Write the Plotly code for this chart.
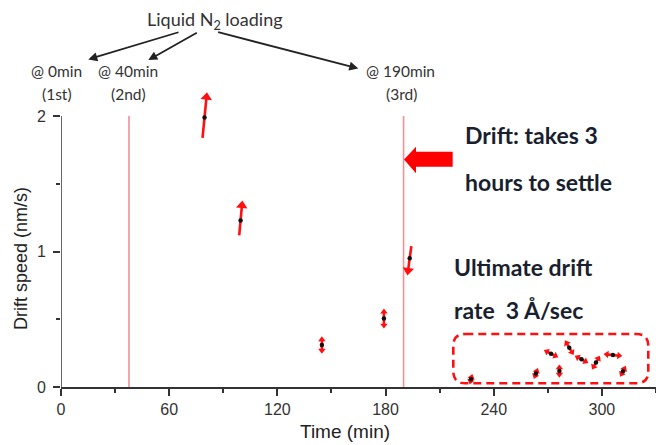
import plotly.graph_objects as go

# ---- data ----
time_min = [79.6, 99.6, 144.7, 179.1, 193.4, 227.4, 263.4, 271.8, 276.4, 281.9, 288.7, 296.7, 306.1, 311.7]
drift_speed = [1.99, 1.23, 0.31, 0.505, 0.95, 0.057, 0.10, 0.246, 0.118, 0.29, 0.204, 0.18, 0.236, 0.116]
# half drift-direction vector (toward the arrow head)
drift_dx = [1.1, 0.75, 0.0, 0.0, -0.9, 0.3, 0.5, 2.4, 0.0, 1.5, 2.2, 1.3, 3.4, 0.75]
drift_dy = [0.15, 0.11, 0.04, 0.05, -0.09, 0.015, 0.018, -0.016, 0.025, -0.034, -0.016, 0.03, -0.005, 0.019]
double_headed = [False, False, True, True, False, True, True, True, True, True, True, True, True, True]

ln2_times = [37.7, 190]
x_ticks = [0, 60, 120, 180, 240, 300]
y_ticks = [0, 1, 2]

RED = "#ff1010"
W, H = 656, 445
YMAX = 2.2
ML, MR, MB = 61, 0, 58
PW = W - ML - MR
PH = 135.5 * YMAX
MT = H - MB - PH


def px(x):
    return (x - ML) / PW


def py(y):
    return (H - MB - y) / PH


fig = go.Figure()

for t, s, dx, dy, dbl in zip(time_min, drift_speed, drift_dx, drift_dy, double_headed):
    hx, hy = t + dx, s + dy
    tx, ty = t - dx, s - dy
    asz = 10 if not dbl else 6.5
    fig.add_trace(go.Scatter(
        x=[tx, hx], y=[ty, hy], mode="lines+markers",
        line=dict(color=RED, width=2.6),
        marker=dict(symbol=["circle", "triangle-up"], size=[0, asz], angleref="previous",
                    color=RED, line=dict(width=0), opacity=1),
        cliponaxis=False, showlegend=False, hoverinfo="skip"))
    if dbl:
        fig.add_trace(go.Scatter(
            x=[hx, tx], y=[hy, ty], mode="markers",
            marker=dict(symbol=["circle", "triangle-up"], size=[0, asz], angleref="previous",
                        color=RED, line=dict(width=0), opacity=1),
            cliponaxis=False, showlegend=False, hoverinfo="skip"))

fig.add_trace(go.Scatter(
    x=time_min, y=drift_speed, mode="markers",
    marker=dict(color="#111111", size=4.5, line=dict(width=0)),
    cliponaxis=False, showlegend=False))

shapes = []
for lt in ln2_times:
    shapes.append(dict(type="line", xref="x", yref="y", x0=lt, x1=lt, y0=0, y1=2,
                       line=dict(color="#f3909a", width=1.6), layer="below"))
# y axis line (only up to the top tick)
shapes.append(dict(type="line", xref="x", yref="y", x0=0, x1=0, y0=0, y1=2,
                   line=dict(color="#333", width=1.5)))

# dashed rounded box
x0, x1, y0, y1, r = 453.3, 648.3, 334, 383.3, 12
rx, ry = r / PW, r / PH
X0, X1, Y0, Y1 = px(x0), px(x1), py(y0), py(y1)
path = (f"M{X0+rx},{Y0} L{X1-rx},{Y0} Q{X1},{Y0} {X1},{Y0-ry} "
        f"L{X1},{Y1+ry} Q{X1},{Y1} {X1-rx},{Y1} "
        f"L{X0+rx},{Y1} Q{X0},{Y1} {X0},{Y1+ry} "
        f"L{X0},{Y0-ry} Q{X0},{Y0} {X0+rx},{Y0} Z")
shapes.append(dict(type="path", xref="paper", yref="paper", path=path,
                   line=dict(color=RED, width=2.6, dash="8px,5px")))

# big red block arrow
pts = [(404, 159.3), (416, 146.7), (416, 151.7), (452.7, 151.7), (452.7, 166.7), (416, 166.7), (416, 173.3)]
apath = "M" + " L".join(f"{px(a)},{py(b)}" for a, b in pts) + " Z"
shapes.append(dict(type="path", xref="paper", yref="paper", path=apath,
                   fillcolor="#ff0000", line=dict(width=0)))

ann = []


def txt(s, x, y, size, color="#333333", family="Lato", xanchor="center", bold=False, angle=0):
    if bold:
        s = f"<b>{s}</b>"
    ann.append(dict(text=s, x=px(x), y=py(y), xref="paper", yref="paper", showarrow=False,
                    xanchor=xanchor, yanchor="middle", textangle=angle,
                    font=dict(size=size, color=color, family=family)))


txt("Liquid N<sub>2</sub> loading", 215, 20.7, 18)
txt("@ 0min", 56.7, 71, 15.5)
txt("(1st)", 56.7, 94.3, 15.5)
txt("@ 40min", 128.3, 71, 15.5)
txt("(2nd)", 128.3, 94.3, 15.5)
txt("@ 190min", 400, 71, 15.5)
txt("(3rd)", 401.7, 94.3, 15.5)

dark = "#1a1f30"
txt("Drift: takes 3", 463, 135, 23, dark, xanchor="left", bold=True)
txt("hours to settle", 463, 181.7, 23, dark, xanchor="left", bold=True)
txt("Ultimate drift", 451.7, 266.7, 23, dark, xanchor="left", bold=True)
txt("rate\u00a0 3 Å/sec", 451.7, 310, 23, dark, xanchor="left", bold=True)

# axis titles
txt("Time (min)", 345, 432, 19, "#222", family="Liberation Sans, Arial")
txt("Drift speed (nm/s)", 21, 259, 18, "#222", family="Liberation Sans, Arial", angle=-90)

for (tx_, ty_), (hx_, hy_) in [((180, 31.7), (88.3, 59.3)), ((198.3, 31.7), (148.3, 60)), ((216.7, 31.7), (358.3, 68.3))]:
    ann.append(dict(x=px(hx_), y=py(hy_), xref="paper", yref="paper", ax=tx_ - hx_, ay=ty_ - hy_,
                    showarrow=True, arrowhead=2, arrowsize=1, arrowwidth=1.8, arrowcolor="#222222",
                    text="", standoff=0))

fig.update_layout(
    width=W, height=H, margin=dict(l=ML, r=MR, t=MT, b=MB),
    paper_bgcolor="white", plot_bgcolor="white",
    shapes=shapes, annotations=ann, showlegend=False,
    font=dict(family="Liberation Sans, Arial", color="#333333"),
    xaxis=dict(range=[0, 330], tickvals=x_ticks, ticks="outside", ticklen=7, tickwidth=1.5,
               tickcolor="#333", showline=True, linecolor="#333", linewidth=1.5,
               showgrid=False, zeroline=False, tickfont=dict(size=16, color="#333"),
               minor=dict(tickvals=[30, 90, 150, 210, 270, 330], ticks="outside", ticklen=4, tickcolor="#333")),
    yaxis=dict(range=[0, YMAX], tickvals=y_ticks, ticks="outside", ticklen=7, tickwidth=1.5,
               tickcolor="#333", showline=False,
               showgrid=False, zeroline=False, tickfont=dict(size=16, color="#333"),
               ticklabelstandoff=4,
               minor=dict(tickvals=[0.5, 1.5], ticks="outside", ticklen=4, tickcolor="#333")),
)

fig.write_html("out.html")
